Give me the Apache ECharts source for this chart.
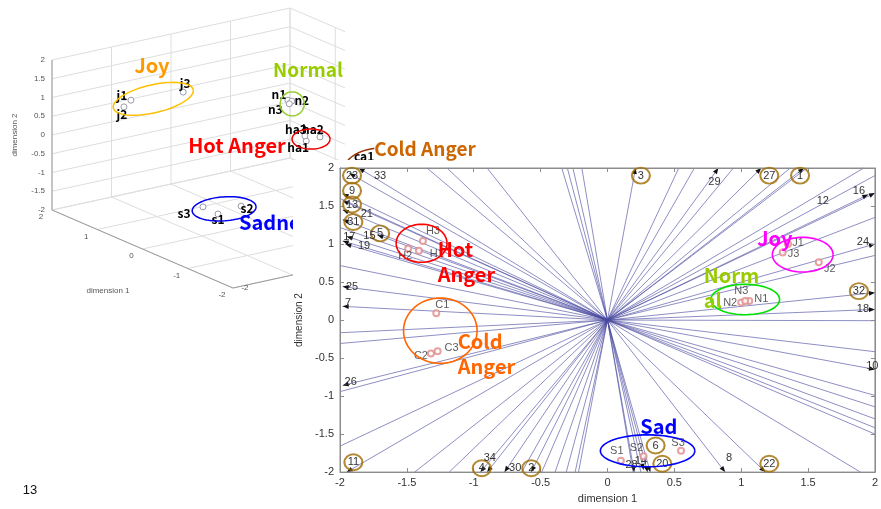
<!DOCTYPE html>
<html>
<head>
<meta charset="utf-8">
<title>MDS biplot</title>
<script src="https://cdn.jsdelivr.net/npm/echarts@6/dist/echarts.min.js"></script>
<style>
  html, body { margin: 0; padding: 0; background: #fff; }
  #main { width: 881px; height: 509px; }
</style>
</head>
<body>
<div id="main"></div>
<script>
// ---------- 2D biplot (right) ----------
const ticks2D = [-2, -1.5, -1, -0.5, 0, 0.5, 1, 1.5, 2];

// numbered variables: arrow tip of each loading vector
const vecNames = ['1','2','3','4','5','6','7','8','9','10','11','12','13','14','15','16','17',
  '18','19','20','21','22','23','24','25','26','27','28','29','30','31','32','33','34'];
const vecX = [1.47, -0.57, 0.21, -0.95, -1.72, 0.30, -1.98, 0.88, -1.98, 2.0, -1.95, 1.95, -1.98, 0.27,
  -1.95, 2.0, -1.98, 2.0, -1.96, 0.32, -1.98, 1.18, -1.93, 2.0, -1.98, -1.98, 1.15, 0.20, 0.83, -0.77,
  -1.98, 2.0, -1.86, -0.90];
const vecY = [2.0, -2.0, 2.0, -2.0, 1.12, -2.0, 0.18, -2.0, 1.66, -0.65, -2.0, 1.65, 1.57, -1.97,
  1.10, 1.67, 1.04, 0.14, 1.0, -2.0, 1.45, -2.0, 1.93, 1.0, 0.44, -0.86, 2.0, -2.0, 2.0, -2.0,
  1.32, 0.36, 2.0, -2.0];
// where the number is printed
const vecLabelX = [1.44, -0.57, 0.25, -0.94, -1.70, 0.36, -1.94, 0.91, -1.91, 1.98, -1.90, 1.61, -1.91, 0.25,
  -1.78, 1.88, -1.93, 1.91, -1.82, 0.41, -1.80, 1.21, -1.91, 1.91, -1.91, -1.92, 1.21, 0.18, 0.80, -0.69,
  -1.90, 1.88, -1.70, -0.88];
const vecLabelY = [1.90, -1.95, 1.90, -1.95, 1.14, -1.65, 0.23, -1.81, 1.70, -0.61, -1.87, 1.57, 1.52, -1.85,
  1.10, 1.70, 1.09, 0.14, 0.97, -1.89, 1.39, -1.89, 1.90, 1.03, 0.44, -0.82, 1.90, -1.91, 1.82, -1.94,
  1.29, 0.38, 1.90, -1.81];
const circledVars = ['1','2','3','4','5','6','9','11','13','20','22','23','27','31','32'];

// unlabeled loadings, their tips lie outside the frame
const extraX = [-1.62, -1.44, -1.08, -0.41, -0.36, -0.31, -0.23, 0.64, 0.78, 1.13, 1.64, 1.79, 2.3,
  2.4, 2.4, 2.4, 2.4, 2.4, 2.4, 2.4, 2.4, 2.4, 2.4,
  2.27, 0.23, 0.3, -0.26, -1.73, -1.42, -0.77, -0.59, -0.47, -0.37, -0.29,
  -2.4, -2.4, -2.4, -2.4, -2.4, -2.4, -2.4];
const extraY = [2.4, 2.4, 2.4, 2.4, 2.4, 2.4, 2.4, 2.4, 2.4, 2.4, 2.4, 2.4, 2.4,
  2.28, 1.62, 1.02, -0.01, -0.5, -1.19, -1.37, -1.56, -1.7, -1.8,
  -2.4, -2.4, -2.4, -2.4, -2.4, -2.4, -2.4, -2.4, -2.4, -2.4, -2.4,
  0.86, -0.2, -0.37, -1.13, -1.99, 1.46, 1.92];

// utterance scores
const ptNames = ['H1','H2','H3','C1','C2','C3','J1','J2','J3','N1','N2','N3','S1','S2','S3'];
const ptX = [-1.41, -1.49, -1.38, -1.28, -1.32, -1.27, 1.35, 1.58, 1.31, 1.06, 1.00, 1.03, 0.10, 0.27, 0.55];
const ptY = [0.91, 0.94, 1.04, 0.09, -0.44, -0.41, 1.00, 0.76, 0.89, 0.25, 0.23, 0.25, -1.85, -1.79, -1.72];

// emotion groups
const groupNames = ['Hot\nAnger', 'Cold\nAnger', 'Joy', 'Norm\nal', 'Sad'];
const groupTextX = [-1.27, -1.12, 1.12, 0.72, 0.245];
const groupTextY = [0.76, -0.44, 1.08, 0.42, -1.40];
const ellX = [-1.39, -1.25, 1.46, 1.03, 0.30];
const ellY = [1.01, -0.14, 0.86, 0.27, -1.72];
const ellRx = [0.19, 0.275, 0.227, 0.257, 0.353];
const ellRy = [0.25, 0.43, 0.228, 0.20, 0.21];

// ---------- 3D MDS plot (upper left) ----------
const ticks3X = [-2, -1, 0, 1, 2];          // dimension 1
const ticks3Y = [-2, -1.5, -1, -0.5, 0, 0.5, 1, 1.5, 2]; // dimension 2
const ticks3Z = [-2, -1, 0, 1, 2];          // dimension 3

const pt3Names = ['j1','j2','j3','n1','n2','n3','ha1','ha2','ha3','s1','s2','s3','ca1'];
const pt3D1 = [1.36, 1.58, 1.31, 1.06, 1.00, 1.03, -1.41, -1.49, -1.38, 0.10, 0.28, 0.55, -1.28];
const pt3D2 = [0.97, 0.66, 0.92, 0.29, 0.29, 0.21, 1.03, 1.12, 1.15, -1.585, -1.65, -1.66, -0.02];
const pt3D3 = [-1.16, -1.11, -0.32, 1.25, 1.27, 1.25, -0.32, -0.15, -0.32, -0.655, -0.13, -0.565, 0.70];

const grp3Names = ['Joy', 'Normal', 'Hot Anger', 'Sadness', 'Cold Anger'];
const grp3D1 = [1.42, 1.03, -1.43, 0.30, -1.30];
const grp3D2 = [0.83, 0.19, 1.07, -1.64, -0.27];
const grp3D3 = [-0.74, 1.30, -0.255, -0.40, 1.04];

// ---------- styles ----------
const FONT = '"Liberation Sans", Arial, sans-serif';
const POP = '"Noto Sans CJK JP", "Noto Sans", sans-serif';
const LINE_COLOR = 'rgba(72, 72, 160, 0.62)';
const GROUP_TEXT_COLOR = ['#ff0000', '#ff6600', '#ff00ff', '#99cc00', '#0000ff'];
const GROUP_ELL_COLOR = ['#ff0000', '#ff6600', '#ff00ff', '#00e000', '#0000ff'];
const PT_LABEL_OFFSET = [[18, 3], [-3, 7], [10, -10], [6, -8], [-10, 2], [14, -3], [10, -1], [11, 7], [11, 2],
  [12, -2], [-11, 0], [-4, -10], [-4, -10], [-7, -8], [-3, -8]];
const PT3_LABEL_OFFSET = [[-9, -5], [-2, 8], [2, -9], [-9, -6], [10, -1], [-14, 6], [-8, 6], [-7, -8], [-9, -7],
  [0, 5], [6, 2], [-19, 7], [3, -8]];
const GRP3_COLOR = ['#ffc000', '#99cc33', '#ee0000', '#0000ee', '#993300'];
const GRP3_RADII = [[41, 14], [12, 12], [19, 10], [32, 12], [38, 22]];
const GRP3_ROT = [-13, 0, 0, -4, 0];
const GRP3_ARC = [[0, 360], [0, 360], [0, 360], [0, 360], [200, 258]];

// screen shift for one unit along each dimension of the 3D box
const VIEW = { ax: 45.25, ay: 19.5, by: 37.5, cx: 59.5, cy: 13 };
function proj(d1, d2, d3) {
  const a = 2 - d1, b = d2 + 2, c = d3 + 2;
  return [a * VIEW.ax + c * VIEW.cx, a * VIEW.ay + (4 - b) * VIEW.by + (4 - c) * VIEW.cy];
}

function ellipsePoints(cx, cy, rx, ry, rotDeg, from, to) {
  const pts = [], r = rotDeg * Math.PI / 180;
  const a0 = (from || 0) * Math.PI / 180, a1 = (to === undefined ? 360 : to) * Math.PI / 180;
  for (let k = 0; k <= 72; k++) {
    const t = a0 + k / 72 * (a1 - a0);
    const x = rx * Math.cos(t), y = ry * Math.sin(t);
    pts.push([cx + x * Math.cos(r) - y * Math.sin(r), cy + x * Math.sin(r) + y * Math.cos(r)]);
  }
  return pts;
}

function clipEnd(o, t, r) {
  let s = 1;
  const dx = t[0] - o[0], dy = t[1] - o[1];
  if (t[0] < r.x) s = Math.min(s, (r.x - o[0]) / dx);
  if (t[0] > r.x + r.width) s = Math.min(s, (r.x + r.width - o[0]) / dx);
  if (t[1] < r.y) s = Math.min(s, (r.y - o[1]) / dy);
  if (t[1] > r.y + r.height) s = Math.min(s, (r.y + r.height - o[1]) / dy);
  return [o[0] + dx * s, o[1] + dy * s];
}

function txt(x, y, text, st) {
  return { type: 'text', x: x, y: y, style: Object.assign({ text: text, align: 'center', verticalAlign: 'middle',
    textAlign: 'center', textVerticalAlign: 'middle' }, st) };
}

// ---------- data for series ----------
const vectorData = vecX.map((x, i) => [x, vecY[i], 1]).concat(extraX.map((x, i) => [x, extraY[i], 0]));
const vecLabelData = vecNames.map((n, i) => [vecLabelX[i], vecLabelY[i], i]);
const circleData = circledVars.map(n => { const i = vecNames.indexOf(n); return [vecLabelX[i], vecLabelY[i]]; });
const pointData = ptNames.map((n, i) => ({
  name: n, value: [ptX[i], ptY[i]],
  label: { offset: PT_LABEL_OFFSET[i] }
}));
const ellData = ellX.map((x, i) => [x, ellY[i], ellRx[i], ellRy[i]]);
const groupTextData = groupNames.map((n, i) => [groupTextX[i], groupTextY[i], i]);

// 3D grid segments: [d1a, d2a, d3a, d1b, d2b, d3b, isEdge]
const box3Data = [];
ticks3Y.forEach(v => {
  box3Data.push([2, v, -2, 2, v, 2, 0]);   // back wall d1 = 2
  box3Data.push([2, v, 2, -2, v, 2, 0]);   // back wall d3 = 2
});
ticks3Z.forEach(v => {
  box3Data.push([2, -2, v, 2, 2, v, 0]);
  box3Data.push([2, -2, v, -2, -2, v, 0]); // floor
});
ticks3X.forEach(v => {
  box3Data.push([v, -2, 2, v, 2, 2, 0]);
  box3Data.push([v, -2, -2, v, -2, 2, 0]); // floor
});
box3Data.push([2, -2, -2, 2, 2, -2, 1], [2, -2, -2, -2, -2, -2, 1], [-2, -2, -2, -2, -2, 2, 1]);

const tick3Data = []
  .concat(ticks3Y.map(v => [2, v, -2, 0, v]))
  .concat(ticks3X.map(v => [v, -2, -2, 1, v]))
  .concat(ticks3Z.map(v => [-2, -2, v, 2, v]));

const pt3Data = pt3Names.map((n, i) => [pt3D1[i], pt3D2[i], pt3D3[i]]);
const grp3Data = grp3Names.map((n, i) => [grp3D1[i], grp3D2[i], grp3D3[i]]);

// ---------- chart ----------
const chart = echarts.init(document.getElementById('main'));

const axisCommon = {
  type: 'value', min: -2, max: 2, interval: 0.5, z: 6,
  axisLine: { show: true, onZero: false, lineStyle: { color: '#8c8c8c' } },
  axisTick: { show: true, inside: true, length: 4, lineStyle: { color: '#8c8c8c' } },
  splitLine: { show: false }
};

const option = {
  animation: false,
  backgroundColor: '#fff',
  grid: [
    { left: 340, top: 168, width: 538, height: 316, show: true, borderColor: '#8c8c8c', borderWidth: 1, z: 6 },
    { left: 52, top: 8, width: 419, height: 280, show: false }
  ],
  xAxis: [
    Object.assign({}, axisCommon, {
      gridIndex: 0, position: 'bottom',
      name: 'dimension 1', nameLocation: 'middle', nameGap: 17,
      nameTextStyle: { color: '#333', fontSize: 11, fontFamily: FONT },
      axisLabel: { color: '#333', fontSize: 11, fontFamily: FONT, margin: 5 }
    }),
    Object.assign({}, axisCommon, { gridIndex: 0, position: 'top', axisLabel: { show: false } }),
    { gridIndex: 1, type: 'value', min: 0, max: 419, show: false }
  ],
  yAxis: [
    Object.assign({}, axisCommon, {
      gridIndex: 0, position: 'left',
      name: 'dimension 2', nameLocation: 'middle', nameGap: 26, nameRotate: 90,
      nameTextStyle: { color: '#333', fontSize: 10, fontFamily: FONT },
      axisLabel: { color: '#333', fontSize: 11, fontFamily: FONT, margin: 6 }
    }),
    Object.assign({}, axisCommon, { gridIndex: 0, position: 'right', axisLabel: { show: false } }),
    { gridIndex: 1, type: 'value', min: 0, max: 280, inverse: true, show: false }
  ],
  graphic: {
    elements: [
      // the 3D picture is cropped on its right side
      { type: 'rect', shape: { x: 345, y: 0, width: 536, height: 160 }, style: { fill: '#fff' }, z: 1.5 },
      // 2D figure sits on top of the 3D figure
      { type: 'rect', shape: { x: 293, y: 160, width: 588, height: 349 }, style: { fill: '#fff' }, z: 3 },
      txt(152, 65, 'Joy', { fill: '#ff9900', fontSize: 20, fontWeight: 'bold', fontFamily: POP }),
      txt(308, 70, 'Normal', { fill: '#99cc00', fontSize: 19, fontWeight: 'bold', fontFamily: POP }),
      txt(237, 145, 'Hot Anger', { fill: '#ff0000', fontSize: 20, fontWeight: 'bold', fontFamily: POP }),
      Object.assign(txt(239, 222, 'Sadness', { fill: '#0000ff', fontSize: 20, fontWeight: 'bold', fontFamily: POP,
        align: 'left', textAlign: 'left' }), { z: 2 }),
      Object.assign(txt(425, 149, 'Cold Anger', { fill: '#cc6600', fontSize: 19, fontWeight: 'bold', fontFamily: POP }), { z: 4 }),
      { type: 'text', x: 15, y: 135, rotation: Math.PI / 2,
        style: { text: 'dimension 2', fill: '#555', fontSize: 8, fontFamily: FONT, align: 'center', verticalAlign: 'middle' } },
      txt(108, 291, 'dimension 1', { fill: '#555', fontSize: 8, fontFamily: FONT }),
      txt(30, 490, '13', { fill: '#111', fontSize: 13, fontFamily: FONT })
    ].map(e => (e.z === undefined ? Object.assign(e, { z: 2 }) : e))
  },
  series: [
    // ----- 3D box -----
    {
      type: 'custom', coordinateSystem: 'cartesian2d', xAxisIndex: 2, yAxisIndex: 2, z: 1,
      silent: true, data: box3Data,
      renderItem: function (params, api) {
        const p = api.coord(proj(api.value(0), api.value(1), api.value(2)));
        const q = api.coord(proj(api.value(3), api.value(4), api.value(5)));
        const edge = api.value(6) === 1;
        return { type: 'line', shape: { x1: p[0], y1: p[1], x2: q[0], y2: q[1] },
          style: { stroke: edge ? '#9a9a9a' : '#dedede', lineWidth: 1 } };
      }
    },
    {
      type: 'custom', coordinateSystem: 'cartesian2d', xAxisIndex: 2, yAxisIndex: 2, z: 1,
      silent: true, data: tick3Data,
      renderItem: function (params, api) {
        const p = api.coord(proj(api.value(0), api.value(1), api.value(2)));
        const kind = api.value(3);
        const off = kind === 0 ? [-7, 0] : kind === 1 ? [-11, 7] : [12, 0];
        const st = { fill: '#555', fontSize: 8, fontFamily: FONT };
        if (kind === 0) { st.align = 'right'; st.textAlign = 'right'; }
        return txt(p[0] + off[0], p[1] + off[1], String(api.value(4)), st);
      }
    },
    {
      type: 'custom', coordinateSystem: 'cartesian2d', xAxisIndex: 2, yAxisIndex: 2, z: 2,
      silent: true, data: pt3Data,
      renderItem: function (params, api) {
        const i = params.dataIndex;
        const p = api.coord(proj(api.value(0), api.value(1), api.value(2)));
        const off = PT3_LABEL_OFFSET[i];
        return { type: 'group', children: [
          { type: 'circle', shape: { cx: p[0], cy: p[1], r: 3 }, style: { fill: '#fff', stroke: '#9a9aaa', lineWidth: 1 } },
          txt(p[0] + off[0], p[1] + off[1], pt3Names[i], { fill: '#000', fontSize: 12, fontWeight: 'bold', fontFamily: POP })
        ] };
      }
    },
    {
      type: 'custom', coordinateSystem: 'cartesian2d', xAxisIndex: 2, yAxisIndex: 2, z: 2,
      silent: true, data: grp3Data,
      renderItem: function (params, api) {
        const i = params.dataIndex;
        const p = api.coord(proj(api.value(0), api.value(1), api.value(2)));
        return { type: 'polyline', shape: { points: ellipsePoints(p[0], p[1], GRP3_RADII[i][0], GRP3_RADII[i][1],
            GRP3_ROT[i], GRP3_ARC[i][0], GRP3_ARC[i][1]) },
          style: { fill: 'none', stroke: GRP3_COLOR[i], lineWidth: 1.5 } };
      }
    },
    // ----- 2D biplot -----
    {
      type: 'custom', coordinateSystem: 'cartesian2d', xAxisIndex: 0, yAxisIndex: 0, z: 5,
      silent: true, data: vectorData,
      renderItem: function (params, api) {
        const r = params.coordSys;
        const o = api.coord([0, 0]);
        const tip = api.coord([api.value(0), api.value(1)]);
        const end = clipEnd(o, tip, r);
        const kids = [{ type: 'line', shape: { x1: o[0], y1: o[1], x2: end[0], y2: end[1] },
          style: { stroke: LINE_COLOR, lineWidth: 1 } }];
        if (api.value(2) === 1) {
          const ang = Math.atan2(tip[1] - o[1], tip[0] - o[0]);
          const L = 6, W = 2.4;
          const bx = tip[0] - L * Math.cos(ang), by = tip[1] - L * Math.sin(ang);
          kids.push({ type: 'polygon', shape: { points: [[tip[0], tip[1]],
            [bx - W * Math.sin(ang), by + W * Math.cos(ang)], [bx + W * Math.sin(ang), by - W * Math.cos(ang)]] },
            style: { fill: '#111' } });
        }
        return { type: 'group', children: kids };
      }
    },
    {
      type: 'scatter', xAxisIndex: 0, yAxisIndex: 0, z: 6, silent: true,
      data: circleData, symbol: 'circle', symbolSize: [18, 16],
      itemStyle: { color: 'rgba(0,0,0,0)', borderColor: '#a06c00', borderWidth: 2 }
    },
    {
      type: 'custom', coordinateSystem: 'cartesian2d', xAxisIndex: 0, yAxisIndex: 0, z: 7,
      silent: true, data: vecLabelData,
      renderItem: function (params, api) {
        const p = api.coord([api.value(0), api.value(1)]);
        return txt(p[0], p[1], vecNames[api.value(2)], { fill: '#333', fontSize: 11, fontFamily: FONT });
      }
    },
    {
      type: 'scatter', xAxisIndex: 0, yAxisIndex: 0, z: 7, silent: true,
      data: pointData, symbol: 'emptyCircle', symbolSize: 6,
      itemStyle: { color: '#e08a8a', borderColor: '#e08a8a', borderWidth: 1 },
      label: { show: true, position: 'inside', formatter: '{b}', color: '#333', fontSize: 11, fontFamily: FONT }
    },
    {
      type: 'custom', coordinateSystem: 'cartesian2d', xAxisIndex: 0, yAxisIndex: 0, z: 8,
      silent: true, data: ellData,
      renderItem: function (params, api) {
        const c = api.coord([api.value(0), api.value(1)]);
        const s = api.size([api.value(2), api.value(3)]);
        return { type: 'polyline', shape: { points: ellipsePoints(c[0], c[1], s[0], s[1], 0) },
          style: { fill: 'none', stroke: GROUP_ELL_COLOR[params.dataIndex], lineWidth: 1.6 } };
      }
    },
    {
      type: 'custom', coordinateSystem: 'cartesian2d', xAxisIndex: 0, yAxisIndex: 0, z: 9,
      silent: true, data: groupTextData,
      renderItem: function (params, api) {
        const i = api.value(2);
        const p = api.coord([api.value(0), api.value(1)]);
        return txt(p[0], p[1], groupNames[i], { fill: GROUP_TEXT_COLOR[i], fontSize: 20, fontWeight: 'bold',
          fontFamily: POP, lineHeight: 25, align: 'left', textAlign: 'left' });
      }
    }
  ]
};

chart.setOption(option);
</script>
</body>
</html>
